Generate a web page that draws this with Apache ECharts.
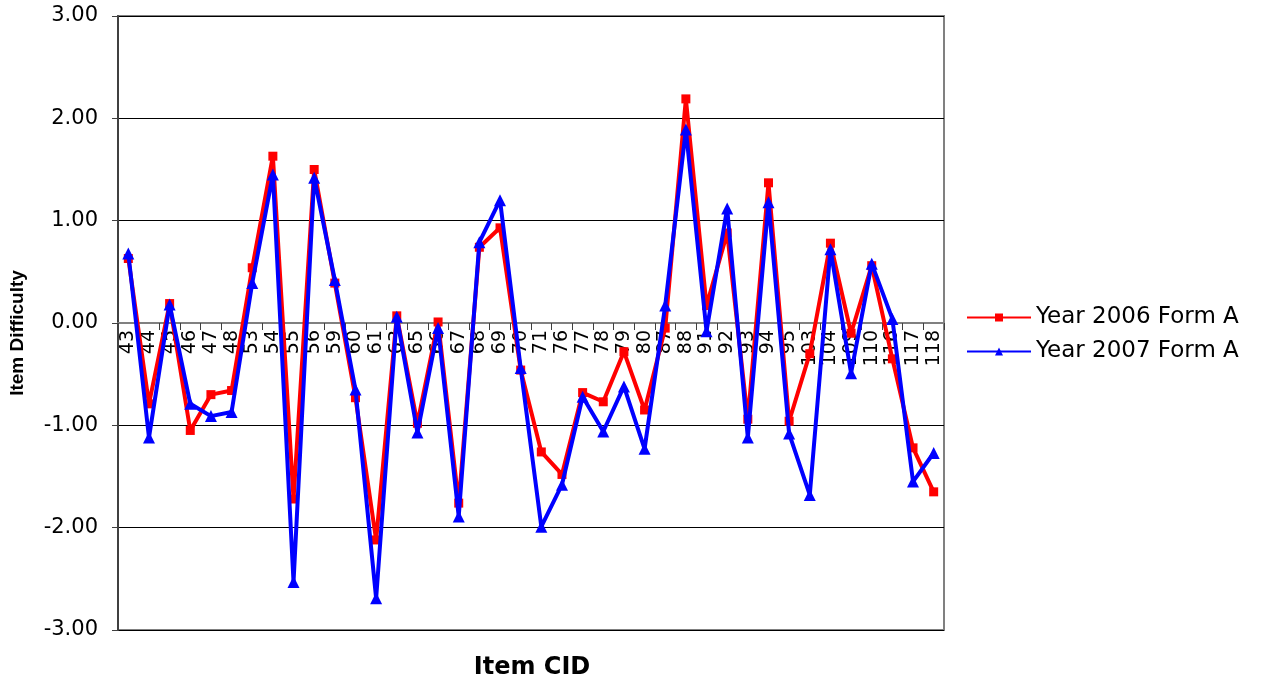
<!DOCTYPE html>
<html>
<head>
<meta charset="utf-8">
<script src="https://cdn.jsdelivr.net/npm/echarts@6/dist/echarts.min.js"></script>
<style>
html,body{margin:0;padding:0;background:#fff;}
#c{width:1269px;height:683px;}
</style>
</head>
<body>
<div id="c"></div>
<script>
const categories = ['43','44','45','46','47','48','53','54','55','56','59','60','61','63','65','66','67','68','69','70','71','76','77','78','79','80','87','88','91','92','93','94','95','103','104','109','110','116','117','118'];
const year2006 = [0.63,-0.79,0.19,-1.05,-0.70,-0.66,0.54,1.63,-1.72,1.50,0.39,-0.73,-2.12,0.07,-0.98,0.01,-1.76,0.74,0.93,-0.46,-1.26,-1.48,-0.68,-0.77,-0.28,-0.85,-0.05,2.19,0.17,0.88,-0.94,1.37,-0.96,-0.30,0.78,-0.10,0.56,-0.35,-1.22,-1.65];
const year2007 = [0.68,-1.12,0.18,-0.79,-0.91,-0.87,0.39,1.45,-2.53,1.42,0.42,-0.65,-2.69,0.06,-1.07,-0.05,-1.89,0.79,1.20,-0.44,-1.99,-1.58,-0.72,-1.06,-0.62,-1.23,0.17,1.89,-0.08,1.12,-1.12,1.18,-1.08,-1.68,0.72,-0.49,0.58,0.04,-1.55,-1.27];
const seriesNames = ['Year 2006 Form A','Year 2007 Form A'];

const FONT = '"DejaVu Sans", Verdana, sans-serif';
const chart = echarts.init(document.getElementById('c'), null, {renderer:'canvas'});
chart.setOption({
  animation:false,
  backgroundColor:'#fff',
  grid:{left:118,right:325,top:16,bottom:53,containLabel:false,outerBoundsMode:'none',
        show:true,borderColor:'#808080',borderWidth:2,backgroundColor:'transparent'},
  legend:{
    orient:'vertical',left:961,top:301,itemWidth:64,itemHeight:10,itemGap:11,
    textStyle:{fontFamily:FONT,fontSize:23,color:'#000'},
    data:seriesNames
  },
  xAxis:{
    type:'category',data:categories,boundaryGap:true,position:'bottom',offset:-307,z:0,
    axisLine:{onZero:false,lineStyle:{color:'#808080',width:2}},
    axisTick:{show:true,length:7,lineStyle:{color:'#404040',width:1}},
    axisLabel:{rotate:90,interval:0,margin:7,fontFamily:FONT,fontSize:19,color:'#000'},
    splitLine:{show:false}
  },
  yAxis:{
    type:'value',min:-3,max:3,interval:1,z:0,
    axisLine:{show:true,lineStyle:{color:'#404040',width:2}},
    axisTick:{show:true,length:6,lineStyle:{color:'#404040'}},
    axisLabel:{margin:20,fontFamily:FONT,fontSize:21,color:'#000',formatter:v=>v.toFixed(2)},
    splitLine:{show:true,lineStyle:{color:'#000',width:1}}
  },
  graphic:[
    {type:'text',x:532,y:668,style:{text:'Item CID',align:'center',verticalAlign:'middle',
      font:'bold 24px "DejaVu Sans", Verdana, sans-serif',fill:'#000'}},
    {type:'text',x:18,y:333,rotation:Math.PI/2,style:{text:'Item Difficulty',align:'center',verticalAlign:'middle',
      font:'bold 19px "Liberation Sans", Arial, sans-serif',fill:'#000'}}
  ],
  series:[
    {name:seriesNames[0],type:'line',data:year2006,symbol:'rect',symbolSize:9,zlevel:1,z:5,
     lineStyle:{color:'#ff0000',width:4},itemStyle:{color:'#ff0000'}},
    {name:seriesNames[1],type:'line',data:year2007,symbol:'triangle',symbolSize:12,zlevel:1,z:6,
     lineStyle:{color:'#0000ff',width:4},itemStyle:{color:'#0000ff'}}
  ]
});
</script>
</body>
</html>
